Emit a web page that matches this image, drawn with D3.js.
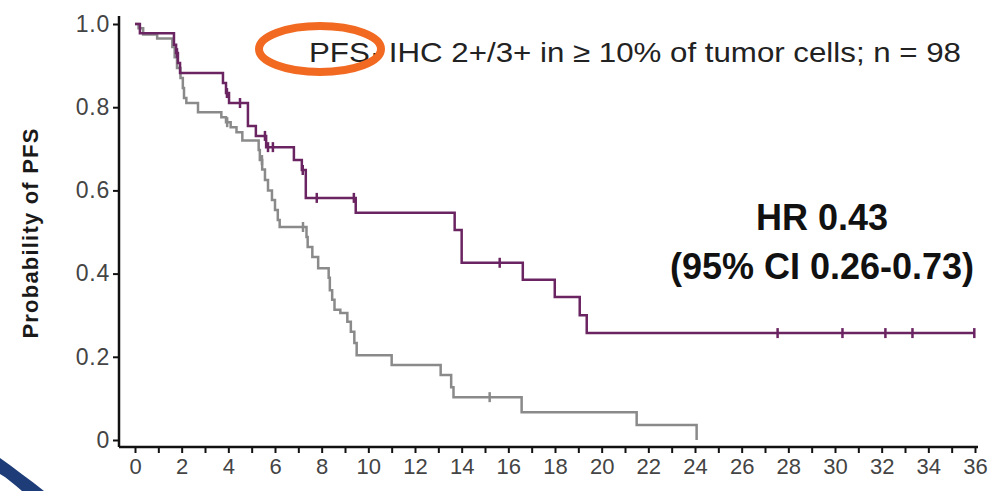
<!DOCTYPE html>
<html>
<head>
<meta charset="utf-8">
<script src="https://cdn.jsdelivr.net/npm/d3@7"></script>
<style>
  body { margin: 0; background: #fff; }
  svg text { font-family: "Liberation Sans", Arial, sans-serif; }
</style>
</head>
<body>
<svg id="km" width="992" height="491"></svg>
<script>
// Treatment arm (purple) step times / survival
const purpleTimes = [0, 0.21, 1.67, 1.76, 1.84, 1.93, 3.77, 3.90, 4.03, 4.84, 5.18, 5.62, 6.81, 7.15, 7.32, 9.46, 13.7, 14.0, 16.62, 17.99, 19.06, 19.36, 36];
const purpleSurv  = [1.0, 0.978, 0.95, 0.93, 0.906, 0.882, 0.858, 0.834, 0.81, 0.755, 0.731, 0.704, 0.673, 0.649, 0.582, 0.546, 0.505, 0.426, 0.385, 0.344, 0.30, 0.257, 0.257];
const purpleCensor = [1.80, 3.94, 4.50, 5.57, 5.70, 5.91, 7.19, 7.79, 9.38, 15.63, 27.54, 30.32, 32.16, 33.32, 35.97];

// Control arm (gray)
const grayTimes = [0, 0.15, 0.35, 0.95, 1.6, 1.7, 1.8, 1.95, 2.05, 2.1, 2.2, 2.7, 3.7, 3.9, 4.1, 4.35, 4.6, 5.3, 5.35, 5.45, 5.57, 5.7, 5.87, 6.0, 6.12, 6.2, 7.35, 7.4, 7.6, 7.85, 8.3, 8.35, 8.45, 8.55, 8.8, 9.1, 9.25, 9.4, 9.5, 11.0, 13.1, 13.55, 13.65, 16.57, 21.5, 24.07];
const graySurv  = [1, 0.99, 0.975, 0.965, 0.945, 0.92, 0.894, 0.87, 0.846, 0.822, 0.81, 0.788, 0.776, 0.764, 0.752, 0.74, 0.72, 0.697, 0.673, 0.65, 0.625, 0.60, 0.577, 0.553, 0.529, 0.512, 0.488, 0.464, 0.44, 0.413, 0.39, 0.36, 0.337, 0.313, 0.305, 0.284, 0.26, 0.233, 0.204, 0.18, 0.156, 0.127, 0.103, 0.067, 0.036, 0];
const grayCensor = [3.95, 5.44, 7.2, 15.2];

const yTicks = [0, 0.2, 0.4, 0.6, 0.8, 1.0];
const xTicks = d3.range(0, 37, 1);

const title = 'PFS\u00b7 IHC 2+/3+ in \u2265 10% of tumor cells; n = 98';
const hrLine1 = 'HR 0.43';
const hrLine2 = '(95% CI 0.26-0.73)';

const svg = d3.select('#km');

const x = d3.scaleLinear().domain([0, 36]).range([135, 975]);
const y = d3.scaleLinear().domain([0, 1]).range([440, 24]);
const axisX = 119;  // y axis sits left of x(0)
const axisY = 447;  // x axis sits below y(0)

// slide corner decoration
svg.append('path')
  .attr('d', 'M0,458 C14,468 30,480 44,491 L22,491 C14,484 7,478 0,474 Z')
  .attr('fill', '#1d3c78');

// y axis
const yAxis = svg.append('g')
  .attr('transform', `translate(${axisX},0)`)
  .call(d3.axisLeft(y).tickValues(yTicks).tickSize(6).tickPadding(3)
    .tickFormat((d) => d === 0 ? '0' : d3.format('.1f')(d)));
yAxis.select('.domain').remove();
yAxis.append('line')
  .attr('y1', 16).attr('y2', axisY)
  .attr('stroke', '#111').attr('stroke-width', 2.5);
yAxis.selectAll('.tick line').attr('stroke', '#111').attr('stroke-width', 2);
yAxis.selectAll('.tick text')
  .attr('font-size', 23).attr('fill', '#444')
  .attr('letter-spacing', 0.8)
  .attr('font-family', '"Liberation Sans", Arial, sans-serif');

// x axis
const xAxis = svg.append('g')
  .attr('transform', `translate(0,${axisY})`)
  .call(d3.axisBottom(x).tickValues(xTicks).tickSize(6).tickPadding(5)
    .tickFormat((d) => d % 2 === 0 ? d : ''));
xAxis.select('.domain').remove();
xAxis.append('line')
  .attr('x1', axisX).attr('x2', 978)
  .attr('stroke', '#111').attr('stroke-width', 2.5);
xAxis.selectAll('.tick line').attr('stroke', '#111').attr('stroke-width', 2);
xAxis.selectAll('.tick text')
  .attr('font-size', 22).attr('fill', '#444')
  .attr('font-family', '"Liberation Sans", Arial, sans-serif');

// y axis label
svg.append('text')
  .text('Probability of PFS')
  .attr('transform', 'translate(38,233) rotate(-90)')
  .attr('text-anchor', 'middle')
  .attr('font-size', 22)
  .attr('font-weight', 'bold')
  .attr('letter-spacing', 1.2)
  .attr('fill', '#1a1a1a');

// curves
const line = d3.line()
  .x((d) => x(d[0]))
  .y((d) => y(d[1]))
  .curve(d3.curveStepAfter);

const stepAt = (times, surv, t) => surv[d3.bisectRight(times, t) - 1];

function drawArm(times, surv, censor, color) {
  svg.append('path')
    .datum(d3.zip(times, surv))
    .attr('d', line)
    .attr('fill', 'none')
    .attr('stroke', color)
    .attr('stroke-width', 2.5);

  svg.append('g')
    .selectAll('line')
    .data(censor)
    .join('line')
    .attr('x1', (d) => x(d)).attr('x2', (d) => x(d))
    .attr('y1', (d) => y(stepAt(times, surv, d)) - 5)
    .attr('y2', (d) => y(stepAt(times, surv, d)) + 5)
    .attr('stroke', color)
    .attr('stroke-width', 2.5);
}

drawArm(grayTimes, graySurv, grayCensor, '#8a8a8a');
drawArm(purpleTimes, purpleSurv, purpleCensor, '#6b2462');

// title text + orange ellipse
svg.append('text')
  .text(title)
  .attr('x', 309).attr('y', 62)
  .attr('font-size', 28)
  .attr('fill', '#222')
  .attr('textLength', 652)
  .attr('lengthAdjust', 'spacingAndGlyphs');

svg.append('ellipse')
  .attr('cx', 320).attr('cy', 49)
  .attr('rx', 61).attr('ry', 23)
  .attr('fill', 'none')
  .attr('stroke', '#f26a21')
  .attr('stroke-width', 8);

// HR annotation
svg.append('text')
  .text(hrLine1)
  .attr('x', 822).attr('y', 230)
  .attr('text-anchor', 'middle')
  .attr('font-size', 36)
  .attr('font-weight', 'bold')
  .attr('fill', '#111');

svg.append('text')
  .text(hrLine2)
  .attr('x', 822).attr('y', 279)
  .attr('text-anchor', 'middle')
  .attr('font-size', 36)
  .attr('font-weight', 'bold')
  .attr('fill', '#111');
</script>
</body>
</html>
